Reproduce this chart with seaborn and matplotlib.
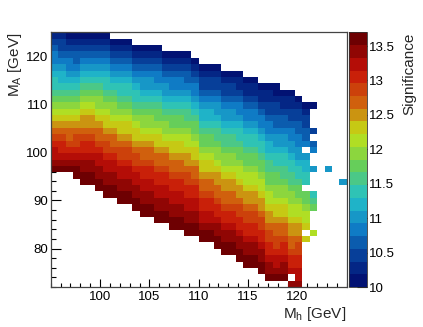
import numpy as np
import pandas as pd
import matplotlib
matplotlib.use("Agg")
import matplotlib.pyplot as plt
import seaborn as sns
from matplotlib.colors import ListedColormap
from matplotlib.ticker import MultipleLocator, FixedLocator, FuncFormatter

# ---------------- data ----------------
# 40 x 40 bins: M_h in [95,125], M_A in [72,125]
mh_edges = np.linspace(95.0, 125.0, 41)
ma_edges = np.linspace(72.0, 125.0, 41)
z_min, z_max, n_levels = 10.0, 13.7, 20

# For every M_h bin: first filled M_A bin, then colour level of each M_A bin
# upward ('0'..'9','a'..'j' = level 0..19, '.' = empty)
col_start = [18, 18, 18, 17, 16, 16, 15, 14, 14, 13,
             13, 12, 11, 11, 10, 10, 9, 9, 8, 8,
             7, 7, 6, 5, 5, 4, 3, 3, 2, 1,
             1, 1, 0, 0, 7, 8, 0, 18, 0, 16]
col_codes = [
    "jihhgfedcba98776544321",
    "jihggfedcba98766543221",
    "jihgfeedcba98765443210",
    "jjihgffedcba98765433210",
    "jjiihggfeddcba9876543210",
    "jjiihggfeddcba9876543210",
    "jjiihhgfeedcbaa9876543210",
    "jjiihhgffedccba98776543210",
    "jjiihhgfeedcbaa9876543210",
    "jjiihhgffedccba98776543210",
    "jjiihhgffedccba98776543210",
    "jjiihhgffedccba98776543210",
    "jjiihhggfeedcbaa98765543210",
    "jjiihhggfeedcbaa98765543210",
    "jjiihhggfeedccba998765443210",
    "jjiihhggfeedcbaa98765543210",
    "jjiihhggfeedccba998765443210",
    "jjiihhggfeedccba998765443210",
    "jjiihhggffeddcbba988765433210",
    "jjiihhggfeedccba998765443210",
    "jjihhggfeedccba9987665432210",
    "jjihhggfeedccba9987665432210",
    "jjiihggfeeddcbaa9887655432210",
    "jjiihggfeeddcbaa9887655432210",
    "jjiihggfeeddcbaa9887655432210",
    "jjiihggffeddcbba99877654432110",
    "jjiihggffeddcbba99877654432110",
    "jjiihggffeddcbba99877654432110",
    "jjiihggffeddcbba99877654432110",
    "jiihggffeddcbba9988766544322110",
    "jihhgffeedccbaa9987765543322100",
    "jiihggfeedccbaa988776554332110",
    "i.hggfeeddcbbaa9887765544322110",
    "ihhggffeddcbba9987765544332210",
    "c.cbba99.77665.4332210",
    "b...987...5..43.2...0",
    "",
    "5",
    "",
    "5",
]

cbar_ticks = [10, 10.5, 11, 11.5, 12, 12.5, 13, 13.5]
x_major = [100, 105, 110, 115, 120]
y_major = [80, 90, 100, 110, 120]

# ---------------- build table ----------------
dz = (z_max - z_min) / n_levels
mh_c = 0.5 * (mh_edges[:-1] + mh_edges[1:])
ma_c = 0.5 * (ma_edges[:-1] + ma_edges[1:])
recs = []
for i, (s0, code) in enumerate(zip(col_start, col_codes)):
    for k, ch in enumerate(code):
        j = s0 + k
        if ch == "." or j >= len(ma_c):
            continue
        lev = int(ch, 36)
        recs.append((mh_c[i], ma_c[j], z_min + (lev + 0.5) * dz))
df = pd.DataFrame(recs, columns=["mh", "ma", "sig"])

# ---------------- ROOT kRainBow palette, 20 contours ----------------
stops = [0.0, 0.125, 0.25, 0.375, 0.5, 0.625, 0.75, 0.875, 1.0]
red = [0, 5, 15, 35, 102, 196, 208, 199, 110]
green = [0, 48, 124, 192, 206, 226, 97, 16, 0]
blue = [99, 142, 198, 201, 90, 22, 13, 8, 2]
cols = []
for k in range(n_levels):
    f = min(int((k + 0.99) * 255 / n_levels) / 254.0, 1.0)
    cols.append((np.interp(f, stops, red) / 255, np.interp(f, stops, green) / 255,
                 np.interp(f, stops, blue) / 255))
cmap = ListedColormap(cols)

# ---------------- figure ----------------
sns.set_theme(style="white")
plt.rcParams["font.family"] = ["Liberation Sans", "DejaVu Sans"]
plt.rcParams["mathtext.fontset"] = "custom"
plt.rcParams["mathtext.rm"] = "Liberation Sans"
plt.rcParams["mathtext.it"] = "Liberation Sans:italic"

W, H = 423, 327
fig = plt.figure(figsize=(W / 100, H / 100), dpi=100)
fig.patch.set_facecolor("white")
ax = fig.add_axes([50.7 / W, 1 - 287 / H, 296 / W, 254.7 / H])
cax = fig.add_axes([349 / W, 1 - 287 / H, 18 / W, 254.7 / H])

sns.histplot(data=df, x="mh", y="ma", weights="sig", bins=[mh_edges, ma_edges],
             cmap=cmap, vmin=z_min, vmax=z_max, cbar=True, cbar_ax=cax, ax=ax)

ax.set_xlim(95, 125)
ax.set_ylim(72, 125)
ax.xaxis.set_major_locator(FixedLocator(x_major))
ax.xaxis.set_minor_locator(MultipleLocator(1))
ax.yaxis.set_major_locator(FixedLocator(y_major))
ax.yaxis.set_minor_locator(MultipleLocator(2))
ax.tick_params(axis="both", which="both", direction="in", colors="black",
               labelsize=9.5, top=False, right=False, bottom=True, left=True,
               labelcolor="black")
ax.tick_params(axis="x", which="major", length=5.5, width=0.8, pad=3)
ax.tick_params(axis="x", which="minor", length=2.8, width=0.8)
ax.tick_params(axis="y", which="major", length=7.2, width=0.8, pad=1.5)
ax.tick_params(axis="y", which="minor", length=3.6, width=0.8)
for sp in ax.spines.values():
    sp.set_visible(True)
    sp.set_color("#444444")
    sp.set_linewidth(0.9)
ax.set_xlabel("M$_{\\mathrm{h}}$ [GeV]", fontsize=11, loc="right", labelpad=1)
ax.set_ylabel("M$_{\\mathrm{A}}$ [GeV]", fontsize=11, loc="top", labelpad=2)

cb = ax.collections[0].colorbar
cb.set_ticks(cbar_ticks)
cb.ax.yaxis.set_major_formatter(FuncFormatter(lambda v, p: f"{v:g}"))
cb.ax.tick_params(axis="y", which="major", direction="in", length=7, width=0.8,
                  labelsize=9.5, pad=1.5, colors="black", right=True, left=False)
cb.ax.minorticks_off()
cb.outline.set_linewidth(0.6)
cb.outline.set_edgecolor("#333333")
cb.set_label("Significance", fontsize=11, loc="top", labelpad=5)

fig.savefig("out.png", dpi=100, facecolor="white")
